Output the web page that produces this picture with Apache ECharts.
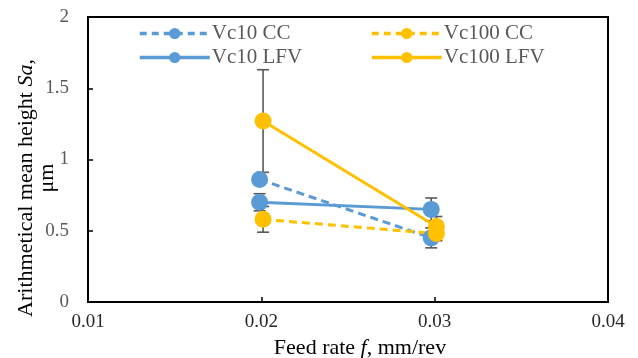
<!DOCTYPE html>
<html><head><meta charset="utf-8">
<script src="https://cdn.jsdelivr.net/npm/echarts@6/dist/echarts.min.js"></script>
<style>html,body{margin:0;padding:0;background:#fff}#c{width:638px;height:358px}</style>
</head><body><div id="c"></div>
<script>
// Data
const seriesNames = ['Vc10 CC', 'Vc10 LFV', 'Vc100 CC', 'Vc100 LFV'];
const xVc10 = [0.0199, 0.0298];
const xVc100 = [0.0201, 0.0301];
const vc10CC = [0.86, 0.45];
const vc10CCErr = [0.03, 0.07];
const vc10LFV = [0.70, 0.65];
const vc10LFVErr = [0.06, 0.08];
const vc100CC = [0.58, 0.48];
const vc100CCErr = [0.09, 0.05];
const vc100LFV = [1.27, 0.53];
const vc100LFVErr = [0.36, 0.07];
const xTicks = [0.01, 0.02, 0.03, 0.04];
const yTicks = [0, 0.5, 1, 1.5, 2];

const blue = '#5B9BD5', yellow = '#FFC000', errColor = '#595959';
const font = 'Liberation Serif';

function pts(xs, ys) { return xs.map((x, i) => [x, ys[i]]); }
function errData(xs, ys, es) { return xs.map((x, i) => [x, ys[i] - es[i], ys[i] + es[i]]); }

function errSeries(xs, ys, es) {
  return {
    type: 'custom', silent: true, z: 3,
    data: errData(xs, ys, es),
    renderItem: function (params, api) {
      const x = api.value(0);
      const lo = api.coord([x, api.value(1)]);
      const hi = api.coord([x, api.value(2)]);
      const w = 6;
      const st = { stroke: errColor, lineWidth: 1.6 };
      return { type: 'group', children: [
        { type: 'line', shape: { x1: lo[0], y1: lo[1], x2: hi[0], y2: hi[1] }, style: st },
        { type: 'line', shape: { x1: lo[0] - w, y1: lo[1], x2: lo[0] + w, y2: lo[1] }, style: st },
        { type: 'line', shape: { x1: hi[0] - w, y1: hi[1], x2: hi[0] + w, y2: hi[1] }, style: st }
      ]};
    }
  };
}

function lineSeries(name, xs, ys, color, dashed) {
  return {
    name: name, type: 'line', data: pts(xs, ys), z: 4,
    symbol: 'circle', symbolSize: 17,
    itemStyle: { color: color },
    lineStyle: { color: color, width: 3, type: dashed ? [8, 5] : 'solid' }
  };
}

const chart = echarts.init(document.getElementById('c'), null, { renderer: 'canvas' });
function legendItem(name, dashed) {
  return { name: name, lineStyle: { width: 3.5, type: dashed ? [7, 5] : 'solid' } };
}
const legendBase = {
  orient: 'vertical', itemWidth: 70, itemHeight: 14, itemGap: 3,
  textStyle: { fontFamily: font, fontSize: 21, color: '#595959', padding: [0, 0, 0, -3] }
};
chart.setOption({
  animation: false,
  textStyle: { fontFamily: font },
  grid: { left: 88, right: 30, top: 17, bottom: 56, show: true, borderColor: '#000', borderWidth: 2,
    outerBoundsMode: 'none', containLabel: false },
  legend: [
    Object.assign({ left: 133, top: 18, data: [legendItem(seriesNames[0], true), legendItem(seriesNames[1], false)] }, legendBase),
    Object.assign({ left: 365, top: 18, data: [legendItem(seriesNames[2], true), legendItem(seriesNames[3], false)] }, legendBase)
  ],
  xAxis: {
    type: 'value', min: xTicks[0], max: xTicks[xTicks.length - 1], interval: 0.01,
    axisLine: { lineStyle: { color: '#000', width: 2 } },
    axisTick: { inside: true, length: 5, lineStyle: { color: '#000', width: 1.5 } },
    splitLine: { show: false },
    axisLabel: { fontFamily: font, fontSize: 19, color: '#262626', margin: 11,
      formatter: v => v.toFixed(2) },
    name: '{n|Feed rate }{i|f}{n|, mm/rev}', nameLocation: 'middle', nameGap: 34,
    nameTextStyle: { padding: [0, 0, 0, 24], rich: {
      n: { fontFamily: font, fontSize: 22, color: '#000' },
      i: { fontFamily: font, fontSize: 22, color: '#000', fontStyle: 'italic' } } }
  },
  yAxis: {
    type: 'value', min: yTicks[0], max: yTicks[yTicks.length - 1], interval: 0.5,
    axisLine: { show: true, lineStyle: { color: '#000', width: 2 } },
    axisTick: { show: true, inside: true, length: 5, lineStyle: { color: '#000', width: 1.5 } },
    splitLine: { show: false },
    axisLabel: { fontFamily: font, fontSize: 19, color: '#595959', margin: 19 },
    name: '{n|Arithmetical mean height }{i|Sa}{c|,}\n{u|μm}', nameLocation: 'middle', nameGap: 30,
    nameMoveOverlap: false,
    nameTextStyle: { align: 'center', lineHeight: 21, rich: {
      n: { fontFamily: font, fontSize: 22, color: '#000', lineHeight: 21 },
      i: { fontFamily: font, fontSize: 22, color: '#000', fontStyle: 'italic', lineHeight: 21 },
      c: { fontFamily: font, fontSize: 22, color: '#000', lineHeight: 21, padding: [0, 57, 0, 0] },
      u: { fontFamily: font, fontSize: 22, color: '#000', lineHeight: 21, padding: [0, 37, 0, 0] } } }
  },
  series: [
    lineSeries(seriesNames[0], xVc10, vc10CC, blue, true),
    lineSeries(seriesNames[1], xVc10, vc10LFV, blue, false),
    lineSeries(seriesNames[2], xVc100, vc100CC, yellow, true),
    lineSeries(seriesNames[3], xVc100, vc100LFV, yellow, false),
    errSeries(xVc10, vc10CC, vc10CCErr),
    errSeries(xVc10, vc10LFV, vc10LFVErr),
    errSeries(xVc100, vc100CC, vc100CCErr),
    errSeries(xVc100, vc100LFV, vc100LFVErr)
  ]
});
</script></body></html>
